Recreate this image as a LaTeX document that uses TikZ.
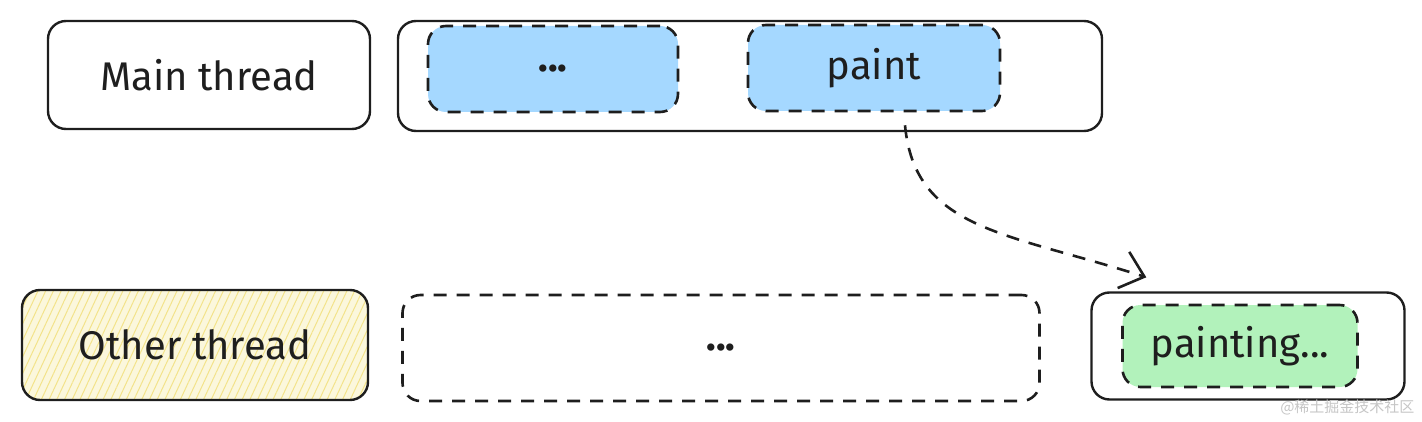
\documentclass[tikz,border=0pt]{standalone}
\usepackage{fontspec}
\setmainfont{Fira Sans}
\newfontfamily\cjkfont{Noto Sans CJK SC}
\usetikzlibrary{arrows.meta, positioning, calc, patterns.meta}

\definecolor{inkblack}{HTML}{1E1E1E}
\definecolor{workblue}{HTML}{A5D8FF}
\definecolor{donegreen}{HTML}{B2F2BB}
\definecolor{hatchyellow}{HTML}{F3E38A}

\begin{document}
\begin{tikzpicture}[
  x=1pt, y=-1pt,
  font=\fontsize{40}{46}\selectfont,
  every node/.style={align=center, text=inkblack},
  block/.style={draw=inkblack, line width=2.4pt, rounded corners=18pt, inner sep=0pt},
  dashblock/.style={block, line width=2.6pt, dash pattern=on 13pt off 10pt},
  flow/.style={draw=inkblack, line width=2.6pt, dash pattern=on 13pt off 10pt,
               -{Straight Barb[length=22pt, width=38pt, line width=2.6pt]}},
]
\useasboundingbox (0,0) rectangle (1422,422);

% main thread
\node [block, minimum width=322pt, minimum height=108pt] (main) at (209,75) {Main thread};
\node [block, minimum width=704pt, minimum height=110pt] (main_track) at (750,76) {};
\node [dashblock, fill=workblue, minimum width=250pt, minimum height=86pt] (main_work) at (553,69) {\textbf{...}};
\node [dashblock, fill=workblue, minimum width=252pt, minimum height=86pt] (paint) at (874,68) {paint};

% other thread
\node [block, preaction={fill=hatchyellow!30},
       pattern={Lines[angle=65, distance=7pt, line width=1pt]}, pattern color=hatchyellow,
       minimum width=346pt, minimum height=110pt] (other) at (195,345) {Other thread};
\node [dashblock, minimum width=637pt, minimum height=106pt] (other_work) at (721,348) {\textbf{...}};
\node [block, minimum width=313pt, minimum height=107pt] (painting_track) at (1248,346) {};
\node [dashblock, fill=donegreen, minimum width=235pt, minimum height=82pt] (painting) at (1240,346) {painting...};

% hand over to the other thread
\draw [flow] ($(paint.south)+(31,13)$) .. controls +(10,105) and +(-140,-45) .. ($(painting_track.north west)+(56,-14)$);

\node [anchor=east, font=\cjkfont\fontsize{15}{18}\selectfont, text=gray!45] (mark) at (1418,407) {@稀土掘金技术社区};
\end{tikzpicture}
\end{document}
